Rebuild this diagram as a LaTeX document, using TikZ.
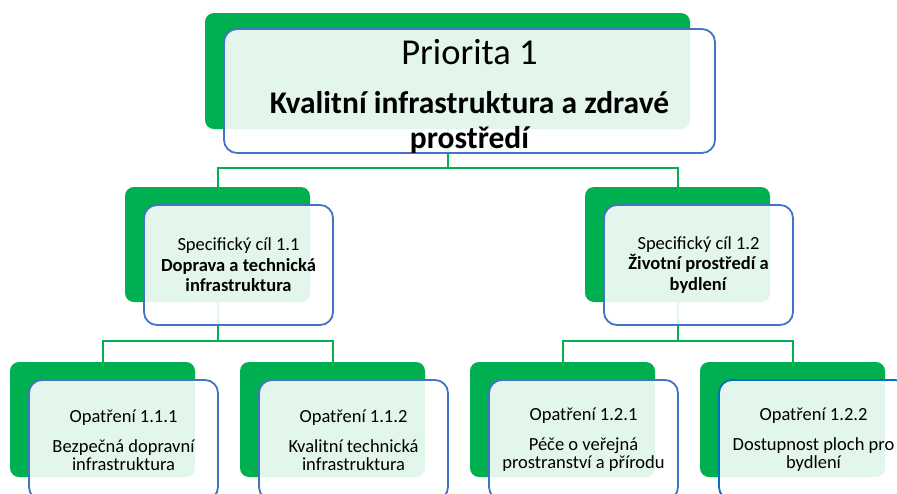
\documentclass[tikz,border=0pt]{standalone}
\usepackage{fontspec}
\setmainfont{Carlito}
\usetikzlibrary{calc, positioning}
\definecolor{smgreen}{HTML}{00B050}
\definecolor{smblue}{HTML}{4472C4}
\definecolor{smblueb}{HTML}{0070C0}
\tikzstyle{back} = [fill=smgreen, rounded corners=9pt, minimum width=185pt, minimum height=115pt, inner sep=0pt]
\tikzstyle{front} = [draw=smblue, line width=1.8pt, fill=white, fill opacity=0.89, text opacity=1, rounded corners=13pt, minimum width=189pt, minimum height=120pt, align=center, inner sep=0pt]
\tikzstyle{goal} = [font=\fontsize{18.5}{20.5}\selectfont]
\tikzstyle{measure} = [font=\fontsize{18.5}{18}\selectfont]
\tikzstyle{link} = [draw=smgreen, line width=2pt]

\begin{document}
\begin{tikzpicture}[x=1pt, y=-1pt]
  \useasboundingbox (0,0) rectangle (897,493);

  % green boxes behind
  \node[back, minimum width=485pt, minimum height=116pt] (P1b) at (447.5,71) {};
  \node[back] (C11b) at (217.5,244.5) {};
  \node[back] (C12b) at (677.5,244.5) {};
  \node[back] (O111b) at (102.5,419.5) {};
  \node[back] (O112b) at (332.5,419.5) {};
  \node[back] (O121b) at (562.5,419.5) {};
  \node[back] (O122b) at (792.5,419.5) {};

  \draw[link] (P1b.south) -- ++(0,39) -| (C11b.north);
  \draw[link] (P1b.south) -- ++(0,39) -| (C12b.north);
  \draw[link] (C11b.south) -- ++(0,39) -| (O111b.north);
  \draw[link] (C11b.south) -- ++(0,39) -| (O112b.north);
  \draw[link] (C12b.south) -- ++(0,39) -| (O121b.north);
  \draw[link] (C12b.south) -- ++(0,39) -| (O122b.north);

  % text boxes in front
  \node[front, minimum width=491pt, font=\fontsize{31.5}{35}\selectfont\bfseries] (P1) at ($(P1b.center)+(22,20)$)
    {{\mdseries\fontsize{36.5}{40}\selectfont\rule{0pt}{35pt}Priorita 1}\\[14pt] Kvalitní infrastruktura a zdravé\\ prostředí};
  \node[front, goal] (C11) at ($(C11b.center)+(21,20.5)$)
    {Specifický cíl 1.1\\ \textbf{Doprava a technická}\\ \textbf{infrastruktura}};
  \node[front, goal] (C12) at ($(C12b.center)+(21,20.5)$)
    {Specifický cíl 1.2\\ \textbf{Životní prostředí a}\\ \textbf{bydlení}};
  \node[front, measure] (O111) at ($(O111b.center)+(21,20.5)$)
    {Opatření 1.1.1\\[12pt] Bezpečná dopravní\\ infrastruktura};
  \node[front, measure] (O112) at ($(O112b.center)+(21,20.5)$)
    {Opatření 1.1.2\\[12pt] Kvalitní technická\\ infrastruktura};
  \node[front, measure] (O121) at ($(O121b.center)+(21,20.5)$)
    {Opatření 1.2.1\\[12pt] Péče o veřejná\\ prostranství a přírodu};
  \node[front, measure, draw=smblueb] (O122) at ($(O122b.center)+(21,20.5)$)
    {Opatření 1.2.2\\[12pt] Dostupnost ploch pro\\ bydlení};

\end{tikzpicture}
\end{document}
